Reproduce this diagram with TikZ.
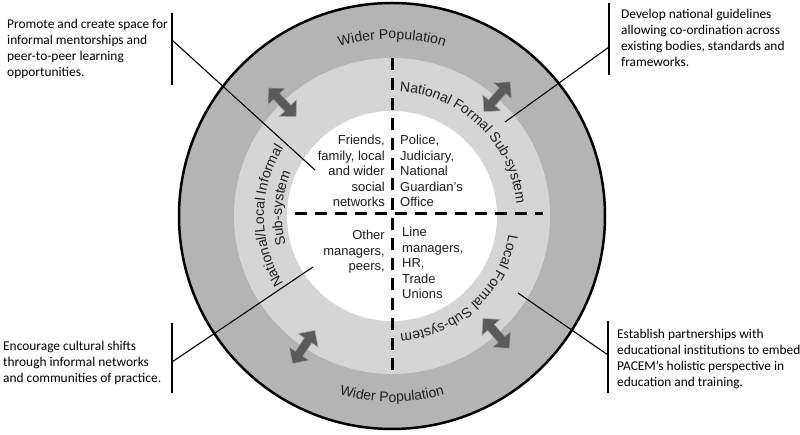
\documentclass[tikz,border=0pt]{standalone}
\usepackage{fontspec}
\setmainfont{Liberation Sans}
\newfontfamily\callfont{Carlito}
\usetikzlibrary{decorations.text}
\definecolor{outerg}{HTML}{B4B4B4}
\definecolor{midg}{HTML}{D5D5D5}
\definecolor{arrg}{HTML}{5A5A5A}
\definecolor{arrline}{HTML}{A8A8A8}
\definecolor{txt}{HTML}{1E1E1E}
\newcommand\ringfnt{\fontsize{14}{16}\selectfont}
\newcommand\quadfnt{\fontsize{13}{15.5}\selectfont\setbox\strutbox\hbox{\vrule height 11pt depth 4.5pt width 0pt}}
\newcommand\callfnt{\callfont\fontsize{13.4}{15.8}\selectfont\setbox\strutbox\hbox{\vrule height 11.3pt depth 4.5pt width 0pt}}
\begin{document}
\begin{tikzpicture}[x=1pt,y=1pt,
  ringtext/.style={decorate, decoration={text along path, text align=center, text color=txt}},
  callbar/.style={line width=2pt, black},
  conn/.style={line width=1.1pt, black},
  quad/.style={inner sep=0pt, font=\quadfnt, text=txt},
  callout/.style={inner sep=0pt, font=\callfnt, text=black},
  dashline/.style={line width=3pt, dash pattern=on 12pt off 8pt},
  dblarrow/.style={fill=arrg, draw=arrline, line width=0.6pt},
  dbl/.pic={\filldraw[dblarrow] (-20,0) -- (-8,12) -- (-8,4.5) -- (8,4.5) -- (8,12) -- (20,0) -- (8,-12) -- (8,-4.5) -- (-8,-4.5) -- (-8,-12) -- cycle;}
]
\useasboundingbox (-392,-219) rectangle (408,216);
\fill[white] (-392,-219) rectangle (408,216);
% rings
\filldraw[fill=outerg, draw=black, line width=2.5pt] (0,0) circle[radius=213];
\fill[midg] (0,0) circle[radius=158];
\fill[white] (0,0) circle[radius=105];
% dividers
\coordinate (vt) at (0,158);
\coordinate (vb) at (0,-158);
\coordinate (hl) at (-97,2);
\coordinate (hr) at (151,2);
\draw[dashline] (vt) -- (vb);
\draw[dashline] (hl) -- (hr);
% ring texts
\path[ringtext, decoration={text={|\ringfnt|Wider Population}}] (178:177) arc[start angle=178, end angle=2, radius=177];
\path[ringtext, decoration={text={|\ringfnt|Wider Population}}] (182:186) arc[start angle=182, end angle=358, radius=186];
\path[ringtext, decoration={text={|\ringfnt|National Formal Sub-system}}] (92:125) arc[start angle=92, end angle=0, radius=125];
\path[ringtext, decoration={text={|\ringfnt|Local Formal Sub-system}}] (-10:118) arc[start angle=-10, end angle=-85, radius=118];
\path[ringtext, decoration={text={|\ringfnt|National/Local Informal}}] (215:128) arc[start angle=215, end angle=145, radius=128];
\path[ringtext, decoration={text={|\ringfnt|Sub-system}}] (205:110) arc[start angle=205, end angle=147, radius=110];
% arrows
\pic[rotate=134] at (134:158) {dbl};
\pic[rotate=48.6] at (48.6:159) {dbl};
\pic[rotate=236] at (236:158) {dbl};
\pic[rotate=-48.4] at (-48.4:157) {dbl};
% inner texts
\node[quad, anchor=base east] (qtl) at (-7,71) {\begin{tabular}[t]{@{}r@{}}Friends,\\family, local\\and wider\\social\\networks\end{tabular}};
\node[quad, anchor=base west] (qtr) at (8,71) {\begin{tabular}[t]{@{}l@{}}Police,\\Judiciary,\\National\\Guardian’s\\Office\end{tabular}};
\node[quad, anchor=base east] (qbl) at (-7,-24) {\begin{tabular}[t]{@{}r@{}}Other\\managers,\\peers,\end{tabular}};
\node[quad, anchor=base west] (qbr) at (10,-21) {\begin{tabular}[t]{@{}l@{}}Line\\managers,\\HR,\\Trade\\Unions\end{tabular}};
% callout bars
\coordinate (b1t) at (-220,203); \coordinate (b1b) at (-220,131);
\coordinate (b2t) at (217,213); \coordinate (b2b) at (217,141);
\coordinate (b3t) at (-220,-107); \coordinate (b3b) at (-220,-177);
\coordinate (b4t) at (216,-105); \coordinate (b4b) at (216,-177);
\draw[callbar] (b1t) -- (b1b);
\draw[callbar] (b2t) -- (b2b);
\draw[callbar] (b3t) -- (b3b);
\draw[callbar] (b4t) -- (b4b);
% connectors
\coordinate (c1s) at (-220,176); \coordinate (c1e) at (-77,46);
\coordinate (c2s) at (217,169); \coordinate (c2e) at (113,94);
\coordinate (c3s) at (-220,-146); \coordinate (c3e) at (-79,-51);
\coordinate (c4s) at (216,-139); \coordinate (c4e) at (126,-77);
\draw[conn] (c1s) -- (c1e);
\draw[conn] (c2s) -- (c2e);
\draw[conn] (c3s) -- (c3e);
\draw[conn] (c4s) -- (c4e);
% callout texts
\node[callout, anchor=base west] (t1) at (-385,187) {\begin{tabular}[t]{@{}l@{}}Promote and create space for\\informal mentorships and\\peer-to-peer learning\\opportunities.\end{tabular}};
\node[callout, anchor=base west] (t2) at (229,197) {\begin{tabular}[t]{@{}l@{}}Develop national guidelines\\allowing co-ordination across\\existing bodies, standards and\\frameworks.\end{tabular}};
\node[callout, anchor=base west] (t3) at (-389,-135) {\begin{tabular}[t]{@{}l@{}}Encourage cultural shifts\\through informal networks\\and communities of practice.\end{tabular}};
\node[callout, anchor=base west] (t4) at (225,-123) {\begin{tabular}[t]{@{}l@{}}Establish partnerships with\\educational institutions to embed\\PACEM’s holistic perspective in\\education and training.\end{tabular}};
\end{tikzpicture}
\end{document}
